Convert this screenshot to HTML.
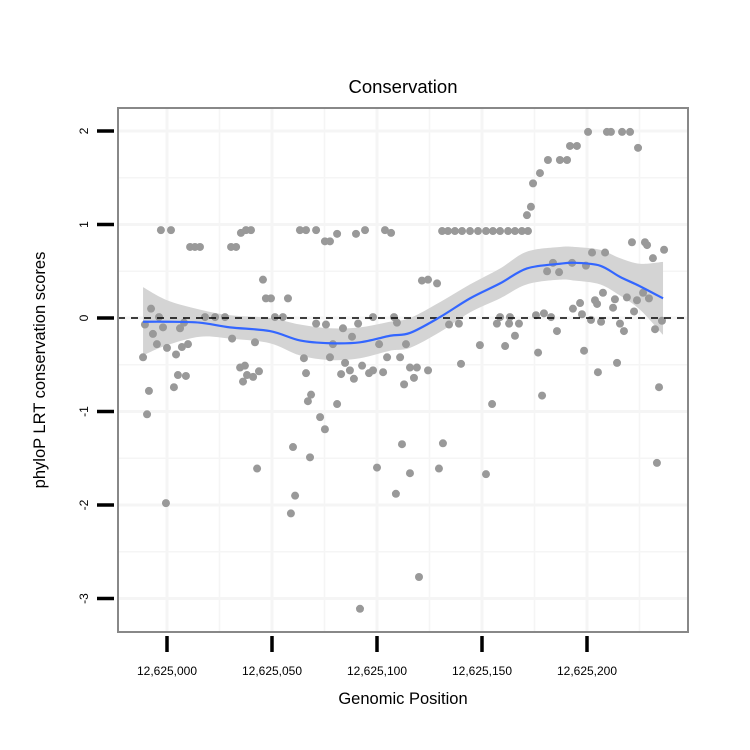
<!DOCTYPE html>
<html><head><meta charset="utf-8"><style>body{margin:0;background:#fff}svg{display:block;font-family:"Liberation Sans",sans-serif}</style></head>
<body>
<svg id="chart" width="750" height="750" viewBox="0 0 750 750"></svg>
<script>
// Data: genomic offset from 12,625,000 and phyloP score
const pointPos = [-11.4,-10.5,-9.5,-8.6,-7.6,-6.7,-4.8,-3.8,-2.9,-1.9,-0.5,0,1.9,3.3,4.3,5.2,6.2,7.1,8.1,9,10,11,13.3,15.7,18.1,22.9,27.6,30.5,32.9,35.2,37.6,40,31,34.8,36.2,37.1,38.1,41,41.9,43.8,42.9,45.7,47.1,49.5,57.6,51.4,55.2,59,60,61,63.3,66.2,71,65.2,66.2,67.1,68.6,68.1,71,72.9,75.2,75.2,77.6,75.7,77.6,79,81,81,82.9,83.8,84.8,87.1,88.1,89,90,91,91.9,92.9,94.3,96.2,98.1,98.1,100,101,102.9,103.8,106.7,104.8,108.1,109.5,109,111,111.9,112.9,113.8,115.7,115.7,117.6,119,120,121.4,124.3,128.6,124.3,129.5,131.4,131,133.8,137.1,140.5,144.3,148.1,151.9,155.2,158.6,162.4,165.7,169,171.9,134.3,139,140,149,151.9,154.8,157.1,158.6,161,162.9,163.3,165.7,167.6,171.4,173.3,174.3,175.7,176.7,177.6,178.6,179.5,181,181.4,182.9,183.8,185.7,186.7,187.1,190.5,191.9,195.2,192.9,193.3,196.7,197.6,198.6,199.5,200.5,201.9,202.4,203.8,204.8,205.2,206.7,207.6,208.6,209.5,211.4,212.4,213.3,214.3,215.7,216.7,217.6,219,220.5,221.4,222.4,223.8,224.3,226.7,227.6,228.6,229.5,231.4,232.4,233.3,234.3,235.7,236.7];
const pointScore = [-0.42,-0.07,-1.03,-0.78,0.10,-0.17,-0.28,0.01,0.94,-0.10,-1.98,-0.32,0.94,-0.74,-0.39,-0.61,-0.11,-0.31,-0.05,-0.62,-0.28,0.76,0.76,0.76,0.01,0.01,0.01,0.76,0.76,0.91,0.94,0.94,-0.22,-0.53,-0.68,-0.51,-0.61,-0.63,-0.26,-0.57,-1.61,0.41,0.21,0.21,0.21,0.01,0.01,-2.09,-1.38,-1.90,0.94,0.94,0.94,-0.43,-0.59,-0.89,-0.82,-1.49,-0.06,-1.06,-1.19,0.82,0.82,-0.07,-0.42,-0.28,-0.92,0.90,-0.60,-0.11,-0.48,-0.56,-0.20,-0.65,0.90,-0.06,-3.11,-0.51,0.94,-0.59,0.01,-0.56,-1.60,-0.28,-0.58,0.94,0.91,-0.42,0.01,-0.05,-1.88,-0.42,-1.35,-0.71,-0.28,-0.53,-1.66,-0.64,-0.53,-2.77,0.40,0.41,0.37,-0.56,-1.61,-1.34,0.93,0.93,0.93,0.93,0.93,0.93,0.93,0.93,0.93,0.93,0.93,0.93,0.93,-0.07,-0.06,-0.49,-0.29,-1.67,-0.92,-0.06,0.01,-0.30,-0.06,0.01,-0.19,-0.06,1.10,1.19,1.44,0.03,-0.37,1.55,-0.83,0.05,0.50,1.69,0.01,0.59,-0.14,0.49,1.69,1.69,1.84,1.84,0.59,0.10,0.16,0.04,-0.35,0.56,1.99,-0.02,0.70,0.19,0.15,-0.58,-0.04,0.27,0.70,1.99,1.99,0.11,0.20,-0.48,-0.06,1.99,-0.14,0.22,1.99,0.81,0.07,0.19,1.82,0.27,0.81,0.78,0.21,0.64,-0.12,-1.55,-0.74,-0.03,0.73];
const fitPos = [-11.4,0,15.7,30,49,63.3,77.6,91.9,106.2,115.7,130,144.3,158.6,171.4,187.1,194.3,206.2,215.7,225.2,236.2];
const fitVal = [-0.04,-0.04,-0.05,-0.10,-0.14,-0.24,-0.27,-0.26,-0.19,-0.16,0.01,0.21,0.37,0.53,0.58,0.59,0.56,0.44,0.34,0.21];
const fitLow = [-0.40,-0.29,-0.20,-0.22,-0.27,-0.40,-0.45,-0.43,-0.35,-0.32,-0.15,0.06,0.21,0.36,0.41,0.40,0.36,0.24,0.09,-0.18];
const fitHigh = [0.33,0.19,0.09,0.03,0.00,-0.07,-0.11,-0.10,-0.04,0.00,0.17,0.36,0.53,0.71,0.76,0.76,0.73,0.64,0.58,0.60];
const xTicks = [0,50,100,150,200];
const xTickLabels = ["12,625,000","12,625,050","12,625,100","12,625,150","12,625,200"];
const yTicks = [-3,-2,-1,0,1,2];

const NS="http://www.w3.org/2000/svg", svg=document.getElementById('chart');
const L=118,R=688,T=108,B=632;
const sx=v=>167+v*2.1, sy=v=>318-v*93.5;
function mk(t,a,p){const e=document.createElementNS(NS,t);for(const k in a)e.setAttribute(k,a[k]);(p||svg).appendChild(e);return e;}
function smooth(pts,move){let d=(move?'M':'L')+pts[0][0]+','+pts[0][1];
 for(let i=0;i<pts.length-1;i++){const p0=pts[i-1]||pts[i],p1=pts[i],p2=pts[i+1],p3=pts[i+2]||p2;
  d+='C'+(p1[0]+(p2[0]-p0[0])/6)+','+(p1[1]+(p2[1]-p0[1])/6)+' '+(p2[0]-(p3[0]-p1[0])/6)+','+(p2[1]-(p3[1]-p1[1])/6)+' '+p2[0]+','+p2[1];}
 return d;}

let e=mk('text',{x:403,y:93,'text-anchor':'middle','font-size':18.5});e.textContent='Conservation';



const grid=mk('g',{});


for(let v=-50;v<=250;v+=25){const x=sx(v);if(x>L&&x<R)mk('line',{x1:x,x2:x,y1:T,y2:B,stroke:'#f5f5f5','stroke-width':v%50?1.5:3},grid);}
for(let v=-3.5;v<=2.5;v+=0.5){const y=sy(v);if(y>T&&y<B)mk('line',{x1:L,x2:R,y1:y,y2:y,stroke:'#f5f5f5','stroke-width':v%1?1.5:3},grid);}

const hi=fitPos.map((p,i)=>[sx(p),sy(fitHigh[i])]);
const lo=fitPos.map((p,i)=>[sx(p),sy(fitLow[i])]).reverse();
e=mk('path',{d:smooth(hi,true)+smooth(lo,false)+'Z',fill:'#d4d4d4'});



const pg=mk('g',{fill:'#999'});


pointPos.forEach((p,i)=>{const c=mk('circle',{cx:sx(p),cy:sy(pointScore[i]),r:4},pg);

});

e=mk('line',{x1:L,x2:R,y1:sy(0),y2:sy(0),stroke:'#000','stroke-width':1.6,'stroke-dasharray':'7,6'});



e=mk('path',{d:smooth(fitPos.map((p,i)=>[sx(p),sy(fitVal[i])]),true),fill:'none',stroke:'#3366ff','stroke-width':2.2});



e=mk('rect',{x:L,y:T,width:R-L,height:B-T,fill:'none',stroke:'#888','stroke-width':2});



xTicks.forEach((v,i)=>{const x=sx(v);
 e=mk('line',{x1:x,x2:x,y1:636,y2:652,stroke:'#000','stroke-width':3.5});
 
 
 e=mk('text',{x:x,y:675,'text-anchor':'middle','font-size':12});e.textContent=xTickLabels[i];
 
 });
yTicks.forEach(v=>{const y=sy(v);
 e=mk('line',{x1:97,x2:114,y1:y,y2:y,stroke:'#000','stroke-width':3.5});
 
 
 e=mk('text',{x:88,y:y,'text-anchor':'middle','font-size':12,transform:`rotate(-90 88 ${y})`});e.textContent=v;
 
 });
e=mk('text',{x:403,y:704,'text-anchor':'middle','font-size':16.5});e.textContent='Genomic Position';


e=mk('text',{x:45,y:370,'text-anchor':'middle','font-size':16.5,transform:'rotate(-90 45 370)'});e.textContent='phyloP LRT conservation scores';


</script>
</body></html>
